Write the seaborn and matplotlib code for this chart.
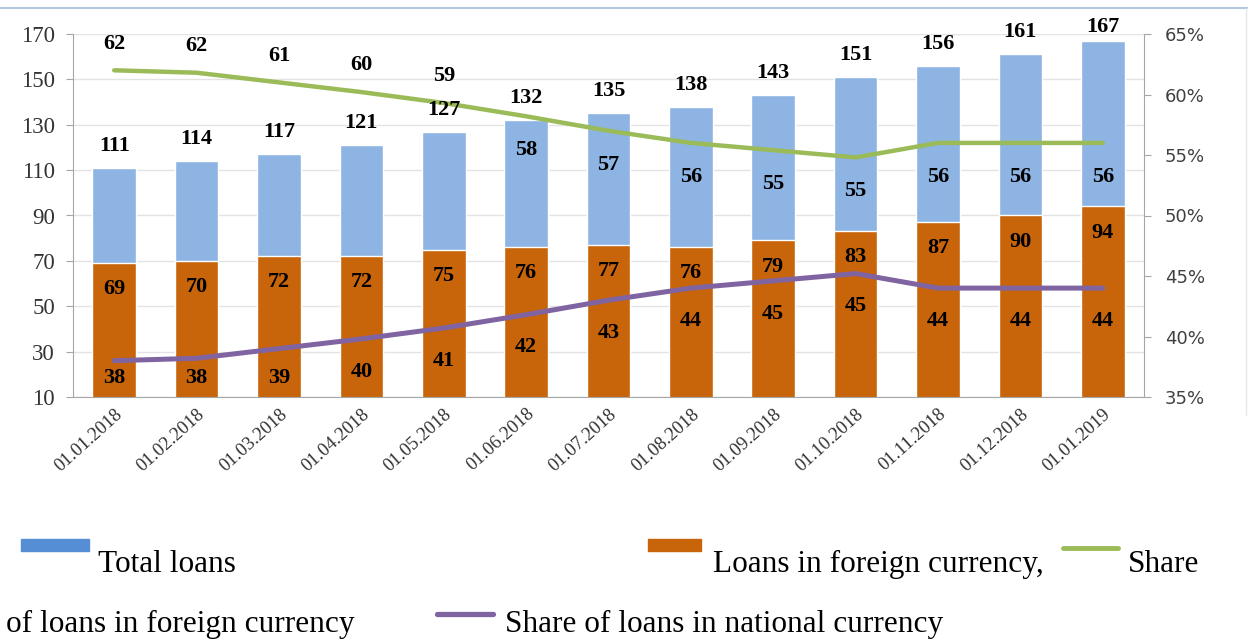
import numpy as np
import pandas as pd
import matplotlib.pyplot as plt
import seaborn as sns
from matplotlib.patches import Rectangle
from matplotlib.lines import Line2D

# data
dates = ["01.01.2018", "01.02.2018", "01.03.2018", "01.04.2018", "01.05.2018",
         "01.06.2018", "01.07.2018", "01.08.2018", "01.09.2018", "01.10.2018",
         "01.11.2018", "01.12.2018", "01.01.2019"]
total_loans = [111, 114, 117, 121, 127, 132, 135, 138, 143, 151, 156, 161, 167]
foreign_loans = [69, 70, 72, 72, 75, 76, 77, 76, 79, 83, 87, 90, 94]
share_foreign = [62.0, 61.8, 61.0, 60.2, 59.3, 58.2, 57.0, 56.0, 55.4, 54.8, 56.0, 56.0, 56.0]
share_national = [38.0, 38.2, 39.0, 39.8, 40.7, 41.8, 43.0, 44.0, 44.6, 45.2, 44.0, 44.0, 44.0]

BLUE = "#8DB4E2"
BLUE_KEY = "#558ED5"
ORANGE = "#C8640A"
GREEN = "#9BBB59"
PURPLE = "#8064A2"
SERIF = "Liberation Serif"

sns.set_style("white")
plt.rcParams["font.family"] = ["Liberation Serif", "DejaVu Sans"]

df = pd.DataFrame({"date": dates, "total": total_loans, "foreign": foreign_loans,
                   "share_fx": share_foreign, "share_nat": share_national})
pos = np.arange(len(dates))

W, H = 1248, 641
fig = plt.figure(figsize=(W / 100, H / 100), dpi=100)
ax = fig.add_axes([73 / W, 1 - 397 / H, (1144 - 73) / W, 363 / H])

sns.barplot(data=df, x="date", y="total", color=BLUE, saturation=1, width=0.53, ax=ax)
sns.barplot(data=df, x="date", y="foreign", color=ORANGE, saturation=1, width=0.53, ax=ax)
ax.set_xlim(-0.5, len(dates) - 0.5)
ax.set_ylim(10, 170)
ax.set_yticks(range(10, 171, 20))
ax.set_xlabel("")
ax.set_ylabel("")
ax.yaxis.grid(True, color="#E3E3E3", lw=1)
ax.set_axisbelow(True)
for s in ["top", "right"]:
    ax.spines[s].set_visible(False)
for s in ["left", "bottom"]:
    ax.spines[s].set_color("#A6A6A6")
ax.tick_params(axis="y", length=5, color="#A6A6A6", labelsize=16.5, labelcolor="#333333", pad=8)
ax.set_xticks(pos)
ax.set_xticks(np.arange(-0.5, len(dates), 1), minor=True)
ax.tick_params(axis="x", which="major", length=0, pad=6)
ax.tick_params(axis="x", which="minor", length=5, color="#A6A6A6")
ax.set_xticklabels(dates, rotation=42, ha="right", va="top", rotation_mode="anchor",
                   fontsize=13.5, color="#333333")

ax2 = ax.twinx()
sns.lineplot(x=pos, y=share_foreign, color=GREEN, linewidth=3.2, ax=ax2)
sns.lineplot(x=pos, y=share_national, color=PURPLE, linewidth=3.6, ax=ax2)
ax2.set_ylim(35, 65)
ax2.set_yticks(range(35, 66, 5))
ax2.set_yticklabels([f"{v}%" for v in range(35, 66, 5)], family="DejaVu Sans")
ax2.tick_params(axis="y", length=5, color="#A6A6A6", labelsize=13, labelcolor="#404040", pad=10)
for s in ["top", "left", "bottom"]:
    ax2.spines[s].set_visible(False)
ax2.spines["right"].set_color("#A6A6A6")
ax2.set_xlim(-0.5, len(dates) - 0.5)

lab = dict(ha="center", va="center", fontsize=16, fontweight="bold", family=SERIF, color="black")
for i in pos:
    ax2.text(i, min(total_loans[i] + 9.7, 173), str(total_loans[i]), transform=ax.transData, **lab)
    ax2.text(i, foreign_loans[i] - 11.5, str(foreign_loans[i]), transform=ax.transData, **lab)
    fx_y = share_foreign[i] + 2.2 if i < 5 else share_foreign[i] - 2.8
    ax2.text(i, fx_y, str(round(share_foreign[i])), **lab)
    ax2.text(i, max(share_national[i] - 2.7, 36.6), str(round(share_national[i])), **lab)

# frame remains around the chart
fig.add_artist(Line2D([0, 1], [1 - 8 / H, 1 - 8 / H], color="#B4C6DC", lw=1.5))
fig.add_artist(Line2D([1246 / W, 1246 / W], [1 - 8 / H, 1 - 415 / H], color="#E1E8F0", lw=1))

# legend set as running text below the chart
def key_box(x0, x1, color):
    fig.add_artist(Rectangle((x0 / W, 1 - 551 / H), (x1 - x0) / W, 12 / H,
                             color=color, transform=fig.transFigure))

def key_line(x0, x1, y, color, lw):
    fig.add_artist(Line2D([x0 / W, x1 / W], [1 - y / H, 1 - y / H], color=color, lw=lw))

txt = dict(fontsize=22.5, family=SERIF, color="black", va="baseline", ha="left")
key_box(21, 89, BLUE_KEY)
fig.text(98 / W, 1 - 572 / H, "Total loans", **txt)
key_box(648, 701, ORANGE)
fig.text(713 / W, 1 - 572 / H, "Loans in foreign currency,", **txt)
key_line(1063, 1118, 548, GREEN, 3.5)
fig.text(1128 / W, 1 - 572 / H, "Share", **txt)
fig.text(6 / W, 1 - 632 / H, "of loans in foreign currency", **txt)
key_line(437, 493, 614, PURPLE, 3.8)
fig.text(505 / W, 1 - 632 / H, "Share of loans in national currency", **txt)

fig.savefig("out.png", dpi=100)
